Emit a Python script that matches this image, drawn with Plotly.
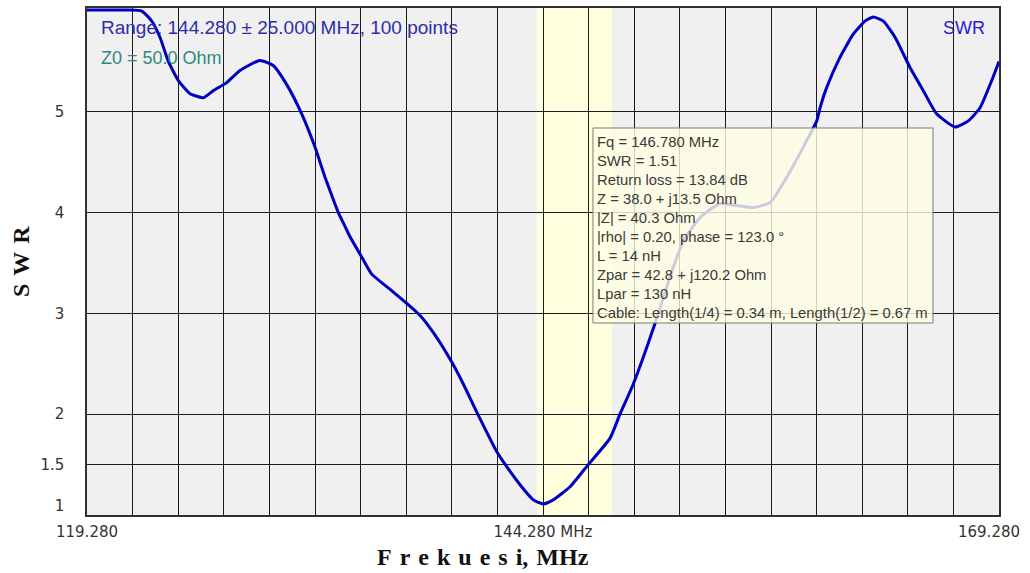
import plotly.graph_objects as go

# ---- data ----
freq_mhz = [119.28, 120.5, 121.5, 122.28, 122.83, 123.28, 123.74, 124.29, 124.93, 125.66,
            126.20, 126.94, 127.67, 128.76, 129.49, 130.23, 131.05, 131.78, 132.33, 132.70,
            133.06, 133.38, 133.70, 134.34, 134.89, 135.89, 136.81, 137.54, 138.27, 139.27,
            139.91, 140.73, 141.74, 142.29, 143.02, 143.75, 144.30, 144.84, 145.76, 146.76,
            147.95, 148.50, 149.23, 150.42, 151.24, 151.97, 152.89, 153.98, 154.90, 155.81,
            156.73, 157.64, 158.55, 159.29, 159.47, 159.83, 160.56, 161.29, 161.93, 162.39,
            162.94, 163.58, 164.40, 165.13, 165.86, 166.87, 167.60, 168.24, 168.88, 169.28]
swr = [6.01, 6.01, 6.01, 6.0, 5.90, 5.74, 5.50, 5.31, 5.18, 5.14,
       5.21, 5.29, 5.41, 5.51, 5.46, 5.27, 4.98, 4.65, 4.35, 4.17,
       4.00, 3.88, 3.76, 3.56, 3.39, 3.24, 3.10, 2.98, 2.81, 2.52,
       2.30, 1.99, 1.63, 1.48, 1.30, 1.15, 1.11, 1.15, 1.28, 1.50,
       1.76, 2.00, 2.30, 2.90, 3.36, 3.72, 3.95, 4.09, 4.07, 4.05,
       4.10, 4.35, 4.65, 4.91, 5.04, 5.24, 5.54, 5.77, 5.90, 5.94,
       5.90, 5.74, 5.44, 5.21, 4.98, 4.85, 4.91, 5.04, 5.31, 5.50]

x_min, x_max = 119.28, 169.28
x_grid = [119.28 + 2.5 * i for i in range(21)]
x_labels = {0: "119.280", 10: "144.280 MHz"}
x_ticktext = [x_labels.get(i, "") for i in range(21)]
x_end_label = "169.280"
y_ticks = [1, 1.5, 2, 3, 4, 5]
y_ticktext = ["1<br>\u00a0", "1.5", "2", "3", "4", "5"]

band_start, band_end = 143.95, 148.05

info_lines = [
    "Fq = 146.780 MHz",
    "SWR = 1.51",
    "Return loss = 13.84 dB",
    "Z = 38.0 + j13.5 Ohm",
    "|Z| = 40.3 Ohm",
    "|rho| = 0.20, phase = 123.0 \u00b0",
    "L = 14 nH",
    "Zpar = 42.8 + j120.2 Ohm",
    "Lpar = 130 nH",
    "Cable: Length(1/4) = 0.34 m, Length(1/2) = 0.67 m",
]

SP = "\u2004"
x_title = "<b>" + SP.join(list("Frekuesi")) + "," + SP + "MHz</b>"
y_title = "<b>" + SP.join(list("SWR")) + "</b>"

tick_font = dict(family="DejaVu Sans", size=15, color="#333333")

fig = go.Figure()
fig.add_trace(go.Scatter(
    x=freq_mhz, y=swr, mode="lines",
    line=dict(color="#0000C0", width=3, shape="spline", smoothing=0.5),
    hoverinfo="skip", showlegend=False,
))
# invisible copy on the overlay axis that carries the right-hand tick label
fig.add_trace(go.Scatter(
    x=freq_mhz, y=swr, mode="lines", xaxis="x2", yaxis="y",
    line=dict(color="rgba(0,0,0,0)", width=0), opacity=0,
    hoverinfo="skip", showlegend=False,
))

# highlighted band (below grid)
fig.add_shape(type="rect", xref="x", yref="y", x0=band_start, x1=band_end, y0=1, y1=6.03,
              fillcolor="#FFFFDD", line=dict(width=0), layer="below")

# info box (semi-transparent, above the curve)
fig.add_shape(type="rect", xref="paper", yref="paper", x0=0.5548, x1=0.9276, y0=0.3787, y1=0.7633,
              fillcolor="rgba(255,255,228,0.8)", line=dict(color="#7a7a7a", width=1), layer="above")

annotations = []
for i, t in enumerate(info_lines):
    py = 141.7 + 19.0 * i
    annotations.append(dict(
        xref="paper", yref="paper", x=(595 - 87) / 912, y=(515 - py) / 507, text=t,
        xanchor="left", yanchor="middle", showarrow=False,
        font=dict(family="Liberation Sans", size=14.8, color="#3a3a3a"),
    ))

annotations += [
    dict(xref="paper", yref="paper", x=(99 - 87) / 912, y=(515 - 28) / 507,
         text="Range: 144.280 \u00b1 25.000 MHz, 100 points", xanchor="left", yanchor="middle",
         showarrow=False, font=dict(family="Liberation Sans", size=19, color="#2E2EA8")),
    dict(xref="paper", yref="paper", x=(99 - 87) / 912, y=(515 - 58) / 507,
         text="Z0 = 50.0 Ohm", xanchor="left", yanchor="middle",
         showarrow=False, font=dict(family="Liberation Sans", size=18, color="#2E8A7E")),
    dict(xref="paper", yref="paper", x=(987 - 87) / 912, y=(515 - 28) / 507,
         text="SWR", xanchor="right", yanchor="middle",
         showarrow=False, font=dict(family="Liberation Sans", size=18, color="#2222CC")),
    dict(xref="paper", yref="paper", x=(482.5 - 87) / 912, y=(515 - 557) / 507,
         text=x_title, xanchor="center", yanchor="middle",
         showarrow=False, font=dict(family="Liberation Serif", size=24, color="#111111")),
    dict(xref="paper", yref="paper", x=(21 - 87) / 912, y=(515 - 262) / 507,
         text=y_title, xanchor="center", yanchor="middle", textangle=-90,
         showarrow=False, font=dict(family="Liberation Serif", size=24, color="#111111")),
]

fig.update_layout(
    width=1030, height=573,
    margin=dict(l=87, r=31, t=8, b=58, autoexpand=False),
    paper_bgcolor="white", plot_bgcolor="#F0F0F0",
    annotations=annotations,
    showlegend=False,
    xaxis=dict(range=[x_min, x_max], tickmode="array", tickvals=x_grid, ticktext=x_ticktext,
               showgrid=True, gridcolor="#1c1c1c", gridwidth=1.3, zeroline=False,
               showline=True, linecolor="#303030", linewidth=1.5, mirror=True,
               ticks="", ticklabelstandoff=2, automargin=False,
               tickfont=tick_font, fixedrange=True),
    xaxis2=dict(range=[x_min, x_max], overlaying="x", side="bottom", anchor="y",
                tickmode="array", tickvals=[x_max], ticktext=[x_end_label],
                showgrid=False, zeroline=False, showline=False, ticks="",
                ticklabelstandoff=6, ticklabelshift=-10, ticklabeloverflow="allow",
                automargin=False, tickfont=tick_font, fixedrange=True),
    yaxis=dict(range=[1, 6.03], tickmode="array", tickvals=y_ticks, ticktext=y_ticktext,
               showgrid=True, gridcolor="#1c1c1c", gridwidth=1.3, zeroline=False,
               showline=True, linecolor="#303030", linewidth=1.5, mirror=True,
               ticks="", ticklabelstandoff=18, automargin=False,
               tickfont=tick_font, fixedrange=True),
)

fig.write_html("out.html", config={"displayModeBar": False},
               post_script="document.body.style.margin='0px';")
